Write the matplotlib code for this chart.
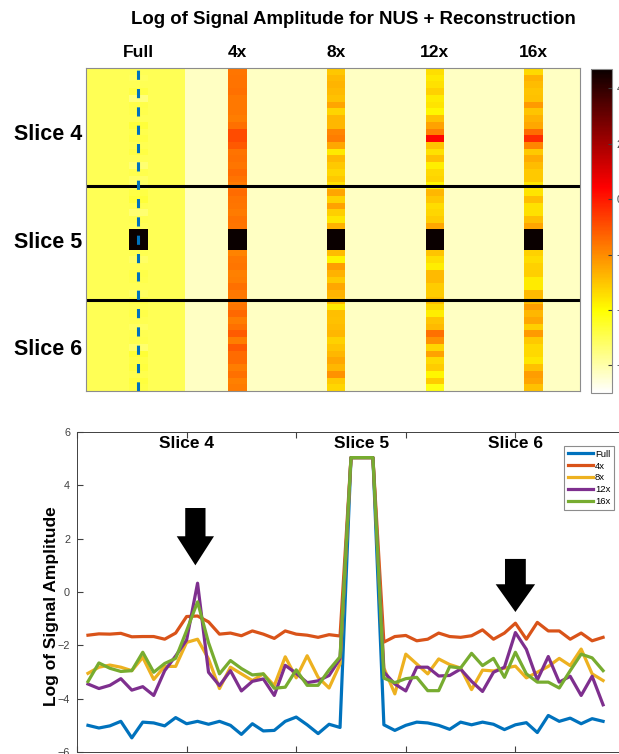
import numpy as np
import matplotlib
matplotlib.use("Agg")
import matplotlib.pyplot as plt

plt.rcParams['font.family'] = ['Liberation Sans', 'DejaVu Sans']

# log amplitude along the dashed column, 48 phase-encode rows (3 slices)
methods = ["Full", "4x", "8x", "12x", "16x"]
full = [-5.0, -5.1, -5.02, -4.85, -5.47, -4.88, -4.91, -5.02, -4.71, -4.94,
        -4.85, -4.96, -4.85, -5.0, -5.34, -4.94, -5.21, -5.19, -4.85, -4.69,
        -4.98, -5.31, -4.96, -5.08, 5.04, 5.04, 5.04, -4.98, -5.19, -5.0,
        -4.88, -4.91, -5.0, -5.15, -4.88, -4.98, -4.88, -4.96, -5.16, -4.98,
        -4.90, -5.27, -4.63, -4.85, -4.73, -4.94, -4.75, -4.85]
nus4 = [-1.62, -1.57, -1.58, -1.55, -1.68, -1.67, -1.67, -1.77, -1.54, -0.92,
        -0.90, -1.12, -1.58, -1.54, -1.64, -1.46, -1.58, -1.74, -1.46, -1.58,
        -1.62, -1.70, -1.60, -1.65, 5.04, 5.04, 5.04, -1.88, -1.67, -1.63,
        -1.83, -1.77, -1.54, -1.67, -1.70, -1.64, -1.42, -1.77, -1.54, -1.17,
        -1.77, -1.14, -1.46, -1.46, -1.77, -1.54, -1.83, -1.70]
nus8 = [-3.05, -2.82, -2.74, -2.82, -2.95, -2.45, -3.28, -2.79, -2.79, -1.89,
        -1.77, -2.51, -3.62, -2.82, -3.07, -3.32, -3.07, -3.51, -2.43, -3.22,
        -2.39, -3.2, -3.6, -2.7, 5.04, 5.04, 5.04, -2.85, -3.82, -2.33,
        -2.70, -3.07, -2.51, -2.72, -2.85, -3.66, -2.93, -2.96, -2.86, -2.78,
        -3.22, -3.01, -2.79, -2.49, -2.76, -2.14, -3.07, -3.32]
nus12 = [-3.45, -3.62, -3.5, -3.25, -3.68, -3.55, -3.88, -2.95, -2.4, -1.8,
         0.33, -3.01, -3.51, -2.95, -3.71, -3.35, -3.26, -3.88, -2.75, -3.05,
         -3.4, -3.33, -3.13, -2.5, 5.04, 5.04, 5.04, -3.0, -3.45, -3.71,
         -2.82, -2.82, -3.15, -3.13, -2.89, -3.35, -3.73, -3.01, -2.82, -1.52,
         -2.15, -3.3, -2.42, -3.38, -3.16, -3.88, -3.16, -4.23]
nus16 = [-3.36, -2.66, -2.86, -2.98, -2.95, -2.26, -3.01, -2.68, -2.49, -1.45,
         -0.37, -1.9, -3.07, -2.57, -2.87, -3.11, -3.07, -3.61, -3.57, -2.92,
         -3.5, -3.5, -2.92, -2.43, 5.04, 5.04, 5.04, -3.23, -3.4, -3.25,
         -3.2, -3.7, -3.7, -2.8, -2.85, -2.3, -2.76, -2.49, -3.2, -2.26,
         -3.07, -3.38, -3.38, -3.6, -2.95, -2.33, -2.47, -2.95]

# background level of each block in the map (full block vs reconstructions)
bg_levels = [-5.0, -6.3, -6.3, -6.3, -6.3]
slice_names = ["Slice 4", "Slice 5", "Slice 6"]
slice_rows = [10, 26, 42]
slice_bounds = [18, 35]
plot_label_x = [10, 26, 40]

colors = ["#0072BD", "#D95319", "#EDB120", "#7E2F8E", "#77AC30"]
series = [full, nus4, nus8, nus12, nus16]

n_rows = len(full)
block_cols = 16
stripe = slice(7, 10)

# build the map: one block per method, the sampled column as a 3-wide stripe
hm = np.zeros((n_rows, block_cols * len(methods)))
for k, vals in enumerate(series):
    block = np.full((n_rows, block_cols), bg_levels[k])
    block[:, stripe] = np.array(vals)[:, None]
    hm[:, k * block_cols:(k + 1) * block_cols] = block

fig = plt.figure(figsize=(6.19, 7.54), dpi=100)
fig.text(353 / 619, 1 - 19 / 754, "Log of Signal Amplitude for NUS + Reconstruction",
         ha='center', va='center', fontsize=13.4, fontweight='bold')

# ---- heatmap ----
ax1 = fig.add_axes([86 / 619, 1 - 391 / 754, 494 / 619, 323 / 754])
im = ax1.imshow(hm, cmap='hot_r', vmin=-7.0, vmax=4.7, aspect='auto',
                interpolation='nearest',
                extent=(0.5, hm.shape[1] + 0.5, n_rows + 0.5, 0.5))
for yb in slice_bounds:
    ax1.axhline(yb, color='black', lw=2.2)
ax1.axvline(9, color='#0072BD', lw=2.2, ls=(0, (3, 3)))
ax1.xaxis.tick_top()
ax1.set_xticks([9 + block_cols * k for k in range(len(methods))])
ax1.set_xticklabels(methods, fontsize=12.5, fontweight='bold')
ax1.set_yticks(slice_rows)
ax1.set_yticklabels(slice_names, fontsize=15.5, fontweight='bold')
ax1.tick_params(length=0, pad=6)
ax1.tick_params(axis='y', pad=3)
for sp in ax1.spines.values():
    sp.set_color('#8c8c8c')
    sp.set_linewidth(0.8)

cax = fig.add_axes([591 / 619, 1 - 393 / 754, 21 / 619, 324 / 754])
cb = fig.colorbar(im, cax=cax)
cb.set_ticks([-6, -4, -2, 0, 2, 4])
cax.tick_params(labelsize=7.5, colors='#404040', length=3, direction='in')
cb.outline.set_edgecolor('#8c8c8c')
cb.outline.set_linewidth(0.8)

# ---- line plot ----
ax2 = fig.add_axes([77 / 619, 1 - 752 / 754, 548 / 619, 320 / 754])
x = np.arange(1, n_rows + 1)
for name, vals, c in zip(methods, series, colors):
    ax2.plot(x, vals, color=c, lw=2.3, label=name)
ax2.set_xlim(0, 50)
ax2.set_ylim(-6, 6)
ax2.set_yticks(np.arange(-6, 7, 2))
ax2.set_xticks(np.arange(0, 51, 10))
ax2.tick_params(direction='in', length=4, labelsize=7.8, colors='#404040',
                top=True, right=True, pad=5)
for sp in ax2.spines.values():
    sp.set_color('#404040')
    sp.set_linewidth(0.7)
ax2.set_ylabel("Log of Signal Amplitude", fontsize=12.5, fontweight='bold')
ax2.yaxis.set_label_coords(-0.033, 0.456)
for lx, name in zip(plot_label_x, slice_names):
    ax2.text(lx, 5.57, name, ha='center', va='center', fontsize=12.5,
             fontweight='bold')

# arrows marking the aliasing peaks
ax2.arrow(10.8, 3.15, 0, -2.15, width=1.85, head_width=3.4, head_length=1.09,
          length_includes_head=True, color='black', lw=0)
ax2.arrow(40.0, 1.24, 0, -1.99, width=1.9, head_width=3.6, head_length=1.04,
          length_includes_head=True, color='black', lw=0)

leg = ax2.legend(loc='upper right', bbox_to_anchor=(614 / 619, 1 - 446 / 754),
                 bbox_transform=fig.transFigure, borderaxespad=0,
                 fontsize=6.8, handlelength=2.7, handletextpad=0.15,
                 labelspacing=0.3, borderpad=0.4, fancybox=False, framealpha=1)
leg.get_frame().set_edgecolor('#8c8c8c')
leg.get_frame().set_linewidth(0.8)

fig.savefig("out.png", dpi=100)
